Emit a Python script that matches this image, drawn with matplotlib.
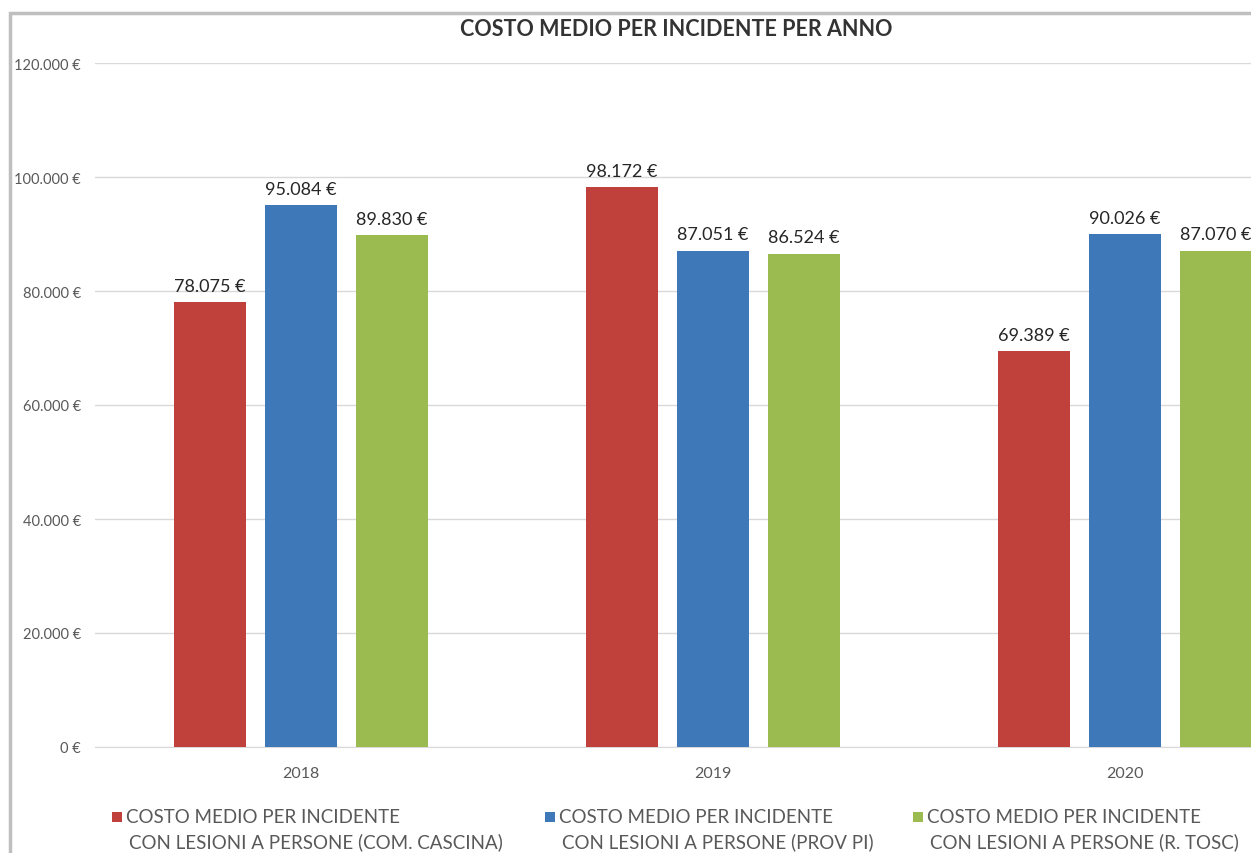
import numpy as np
import matplotlib
matplotlib.use("Agg")
import matplotlib.pyplot as plt
from matplotlib.patches import Rectangle

plt.rcParams['font.family'] = ['Lato', 'DejaVu Sans']

# dati
anni = ['2018', '2019', '2020']
cascina = [78075, 98172, 69389]
prov_pi = [95084, 87051, 90026]
r_tosc = [89830, 86524, 87070]
serie = [cascina, prov_pi, r_tosc]
colori = ['#C0403C', '#3E78B8', '#9BBB50']
etichette = [('COSTO MEDIO PER INCIDENTE', 'CON LESIONI A PERSONE (COM. CASCINA)'),
             ('COSTO MEDIO PER INCIDENTE', 'CON LESIONI A PERSONE (PROV PI)'),
             ('COSTO MEDIO PER INCIDENTE', 'CON LESIONI A PERSONE (R. TOSC)')]
yticks = np.arange(0, 120001, 20000)

def euro(v):
    return '{:,}'.format(int(v)).replace(',', '.') + ' €'

W, H = 1251, 854
fig = plt.figure(figsize=(W/100, H/100), dpi=100)

# bordo del grafico (tagliato a destra e in basso)
fig.patches.append(Rectangle((10/W, -0.2), 1.2, (854-14)/H + 0.2, transform=fig.transFigure,
                             fill=False, edgecolor='#BFBFBF', linewidth=2.5))

ax = fig.add_axes([95/W, (H-748)/H, (1331-95)/W, (748-64)/H])
x = np.arange(len(anni))
larg = 0.175
passo = 0.221
for i, (vals, col) in enumerate(zip(serie, colori)):
    bars = ax.bar(x + (i-1)*passo, vals, width=larg, color=col, zorder=3)
    for b, v in zip(bars, vals):
        ax.annotate(euro(v), (b.get_x() + b.get_width()/2, v), xytext=(0, 6),
                    textcoords='offset points', ha='center', va='bottom',
                    fontsize=13, color='#262626')

ax.set_xlim(-0.5, 2.5)
ax.set_ylim(0, 120000)
ax.set_yticks(yticks)
ax.set_yticklabels([euro(v) for v in yticks], fontsize=10.5, color='#595959')
ax.set_xticks(x)
ax.set_xticklabels(anni, fontsize=11.5, color='#595959')
ax.tick_params(axis='both', length=0)
ax.tick_params(axis='y', pad=10)
ax.tick_params(axis='x', pad=14)
ax.grid(axis='y', color='#D9D9D9', linewidth=1, zorder=0)
for s in ['top', 'right', 'left']:
    ax.spines[s].set_visible(False)
ax.spines['bottom'].set_color('#D9D9D9')

fig.text(676/W, (H-30)/H, 'COSTO MEDIO PER INCIDENTE PER ANNO', ha='center', va='center',
         fontsize=15.5, fontweight='bold', color='#333333')

# legenda
pos_x = [112, 545, 913]
for px, col, (r1, r2) in zip(pos_x, colori, etichette):
    fig.patches.append(Rectangle((px/W, (H-823)/H), 10/W, 10/H, transform=fig.transFigure,
                                 facecolor=col, edgecolor='none'))
    fig.text((px+14)/W, (H-818)/H, r1, ha='left', va='center', fontsize=13.5, color='#595959')
    fig.text((px+17)/W, (H-842)/H, r2, ha='left', va='center', fontsize=13.5, color='#595959')

fig.savefig('out.png', dpi=100)
